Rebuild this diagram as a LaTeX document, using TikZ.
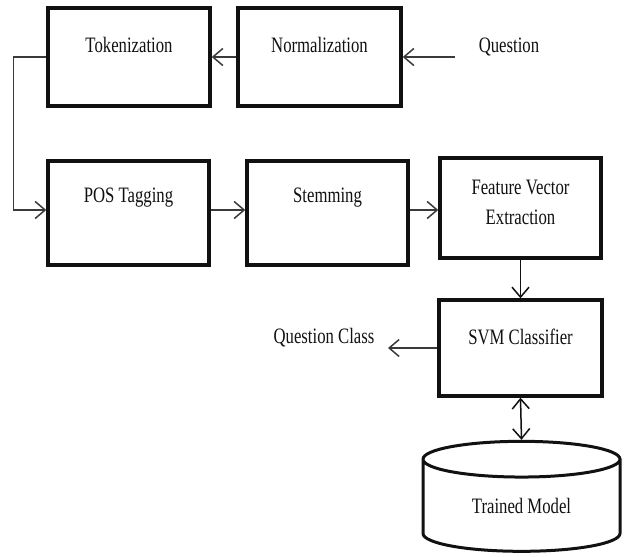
\documentclass[tikz,border=0pt]{standalone}
\usepackage{fontspec}
\setmainfont{Liberation Serif}
\usepackage{graphicx}
\usepackage{tikz}
\usetikzlibrary{arrows.meta,positioning,shapes.geometric}
\definecolor{ink}{HTML}{111111}
\definecolor{wire}{HTML}{3A3A3A}
\newcommand{\narrow}[1]{\scalebox{0.76}[1]{#1}}
\tikzset{
    every picture/.style={line join=miter},
    procbox/.style={draw=ink,line width=3.4pt,fill=white,inner sep=0pt,
      font=\fontsize{22}{24}\selectfont,align=center},
    boxtext/.style={font=\fontsize{22}{24}\selectfont,align=center,text=ink},
    store/.style={draw=ink,line width=3pt,cylinder,shape border rotate=90,
      aspect=0.36,minimum width=197pt,minimum height=110pt,inner sep=0pt},
    flowarrow/.style={-{Straight Barb[length=10pt,width=17pt,line width=1.5pt]},
      draw=wire,line width=1.5pt},
    bothways/.style={{Straight Barb[length=10pt,width=17pt,line width=1.5pt]}-{Straight Barb[length=10pt,width=17pt,line width=1.5pt]},
      draw=ink,line width=1.5pt}
}
\begin{document}
\begin{tikzpicture}[x=1pt,y=-1pt]
  \useasboundingbox (0,0) rectangle (627,557);
  % first row
  \node[procbox,minimum width=162pt,minimum height=98pt,
    label={[boxtext,yshift=12pt]center:\narrow{Tokenization}}] (tok) at (129,57) {};
  \node[procbox,minimum width=163pt,minimum height=98pt,
    label={[boxtext,yshift=12pt]center:\narrow{Normalization}}] (norm) at (319.5,57) {};
  \node[boxtext] (q) at (509,47) {\narrow{Question}};
  \coordinate (qin) at (455,57);
  % second row
  \node[procbox,minimum width=161pt,minimum height=104pt,
    label={[boxtext,yshift=15pt]center:\narrow{POS Tagging}}] (pos) at (128.5,213) {};
  \node[procbox,minimum width=161pt,minimum height=104pt,
    label={[boxtext,yshift=15pt]center:\narrow{Stemming}}] (stem) at (327.5,213) {};
  \node[procbox,minimum width=161pt,minimum height=100pt,
    label={[boxtext,yshift=6pt]center:\narrow{Feature Vector}\\[6pt]\narrow{Extraction}}] (fv) at (520.5,208) {};
  % classifier and model
  \node[procbox,minimum width=163pt,minimum height=96pt,
    label={[boxtext,yshift=11pt]center:\narrow{SVM Classifier}}] (svm) at (520.5,348) {};
  \node[boxtext] (qc) at (324,338) {\narrow{Question Class}};
  \coordinate (qcout) at (388,348);
  \node[store,boxtext] (db) at (521.5,506) {\raisebox{-10pt}{\narrow{Trained Model}}};

  \draw[flowarrow] (qin) -- (norm.east |- qin);
  \draw[flowarrow] (norm.west) -- (tok.east);
  \draw[flowarrow] (tok.west) -- ++(-33,0) |- ([yshift=3pt]pos.west);
  \draw[flowarrow] ([yshift=3pt]pos.east) -- ([yshift=3pt]stem.west);
  \draw[flowarrow] ([yshift=3pt]stem.east) -- ([yshift=3pt]stem.east -| fv.west);
  \draw[flowarrow,draw=ink] (fv.south) -- (svm.north);
  \draw[flowarrow] (svm.west) -- (qcout);
  \draw[bothways] (svm.south) -- (db.north);
\end{tikzpicture}
\end{document}
